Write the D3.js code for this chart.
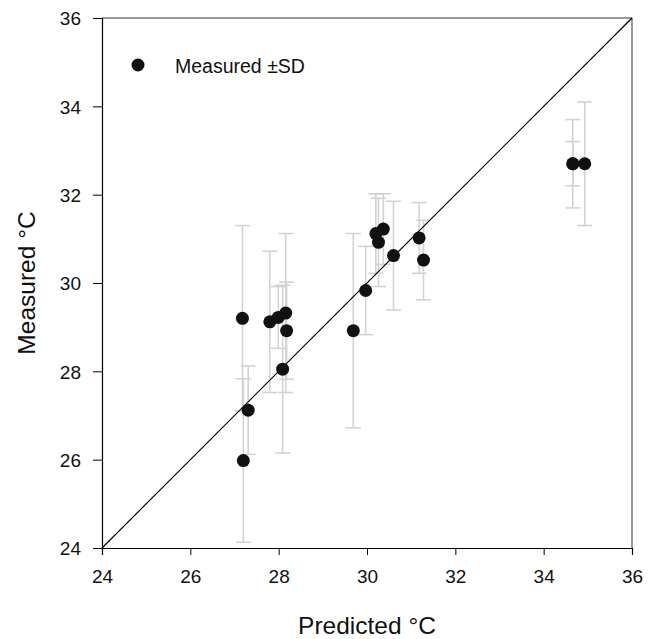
<!DOCTYPE html>
<html>
<head>
<meta charset="utf-8">
<script src="https://cdn.jsdelivr.net/npm/d3@7"></script>
<style>
  body { margin: 0; background: #fff; }
  text { font-family: "Liberation Sans", Arial, sans-serif; }
</style>
</head>
<body>
<div id="chart"></div>
<script>
// predicted vs measured, with SD
const predicted = [27.18, 27.2, 27.31, 27.8, 27.99, 28.16, 28.18, 28.09, 29.69, 29.97, 30.2, 30.26, 30.37, 30.6, 31.18, 31.28, 34.66, 34.66, 34.93];
const measured  = [29.2, 25.98, 27.12, 29.12, 29.22, 29.32, 28.92, 28.05, 28.92, 29.83, 31.12, 30.92, 31.22, 30.62, 31.02, 30.52, 32.7, 32.7, 32.7];
const sd        = [2.1, 1.85, 1.0, 1.6, 0.7, 1.8, 1.1, 1.9, 2.2, 1.0, 0.9, 1.0, 0.8, 1.23, 0.8, 0.9, 1.0, 0.5, 1.4];
const ticks = [24, 26, 28, 30, 32, 34, 36];

const data = predicted.map((p, i) => ({p: p, m: measured[i], sd: sd[i]}));

const width = 657, height = 639;
const margin = {top: 18, right: 25, bottom: 91, left: 102};

const svg = d3.select('#chart').append('svg')
  .attr('width', width)
  .attr('height', height);

const x = d3.scaleLinear().domain([24, 36]).range([margin.left, width - margin.right]);
const y = d3.scaleLinear().domain([24, 36]).range([height - margin.bottom, margin.top]);

// frame top/right
svg.append('path')
  .attr('d', `M${x(24)},${y(36)}H${x(36)}V${y(24)}`)
  .attr('fill', 'none')
  .attr('stroke', '#333')
  .attr('stroke-width', 1);

// error bars
const eb = svg.append('g').attr('stroke', '#d3d3d3').attr('stroke-width', 1.6);
data.forEach(d => {
  eb.append('line')
    .attr('x1', x(d.p)).attr('x2', x(d.p))
    .attr('y1', y(d.m - d.sd)).attr('y2', y(d.m + d.sd));
  [d.m - d.sd, d.m + d.sd].forEach(v => {
    eb.append('line')
      .attr('x1', x(d.p) - 7.5).attr('x2', x(d.p) + 7.5)
      .attr('y1', y(v)).attr('y2', y(v));
  });
});

// 1:1 line
svg.append('line')
  .attr('x1', x(24)).attr('y1', y(24))
  .attr('x2', x(36)).attr('y2', y(36))
  .attr('stroke', '#000').attr('stroke-width', 1.2);

svg.append('g')
  .selectAll('circle')
  .data(data)
  .join('circle')
  .attr('cx', d => x(d.p))
  .attr('cy', d => y(d.m))
  .attr('r', 6.5)
  .attr('fill', '#111');

// axes
const xAxis = svg.append('g')
  .attr('transform', `translate(0,${y(24)})`)
  .call(d3.axisBottom(x).tickValues(ticks).tickSize(7).tickPadding(15).tickFormat(d3.format('d')));
const yAxis = svg.append('g')
  .attr('transform', `translate(${x(24)},0)`)
  .call(d3.axisLeft(y).tickValues(ticks).tickSize(9).tickPadding(12).tickFormat(d3.format('d')));

[xAxis, yAxis].forEach(g => {
  g.select('.domain').attr('stroke', '#000').attr('stroke-width', 1.2);
  g.selectAll('.tick line').attr('stroke', '#000');
  g.selectAll('.tick text')
    .attr('font-size', 19)
    .attr('fill', '#111')
    .style('font-family', '"Liberation Sans", Arial, sans-serif');
});
yAxis.selectAll('.tick text').attr('dy', '0.36em');

// titles
svg.append('text')
  .attr('x', (x(24) + x(36)) / 2)
  .attr('y', 634)
  .attr('text-anchor', 'middle')
  .attr('font-size', 24.5)
  .attr('fill', '#111')
  .text('Predicted °C');

svg.append('text')
  .attr('transform', `translate(35,${(y(24) + y(36)) / 2}) rotate(-90)`)
  .attr('text-anchor', 'middle')
  .attr('font-size', 24.5)
  .attr('fill', '#111')
  .text('Measured °C');

// legend
svg.append('circle')
  .attr('cx', 138).attr('cy', 65).attr('r', 6.5).attr('fill', '#111');
svg.append('text')
  .attr('x', 175).attr('y', 73)
  .attr('font-size', 19.5)
  .attr('fill', '#111')
  .text('Measured ±SD');
</script>
</body>
</html>
